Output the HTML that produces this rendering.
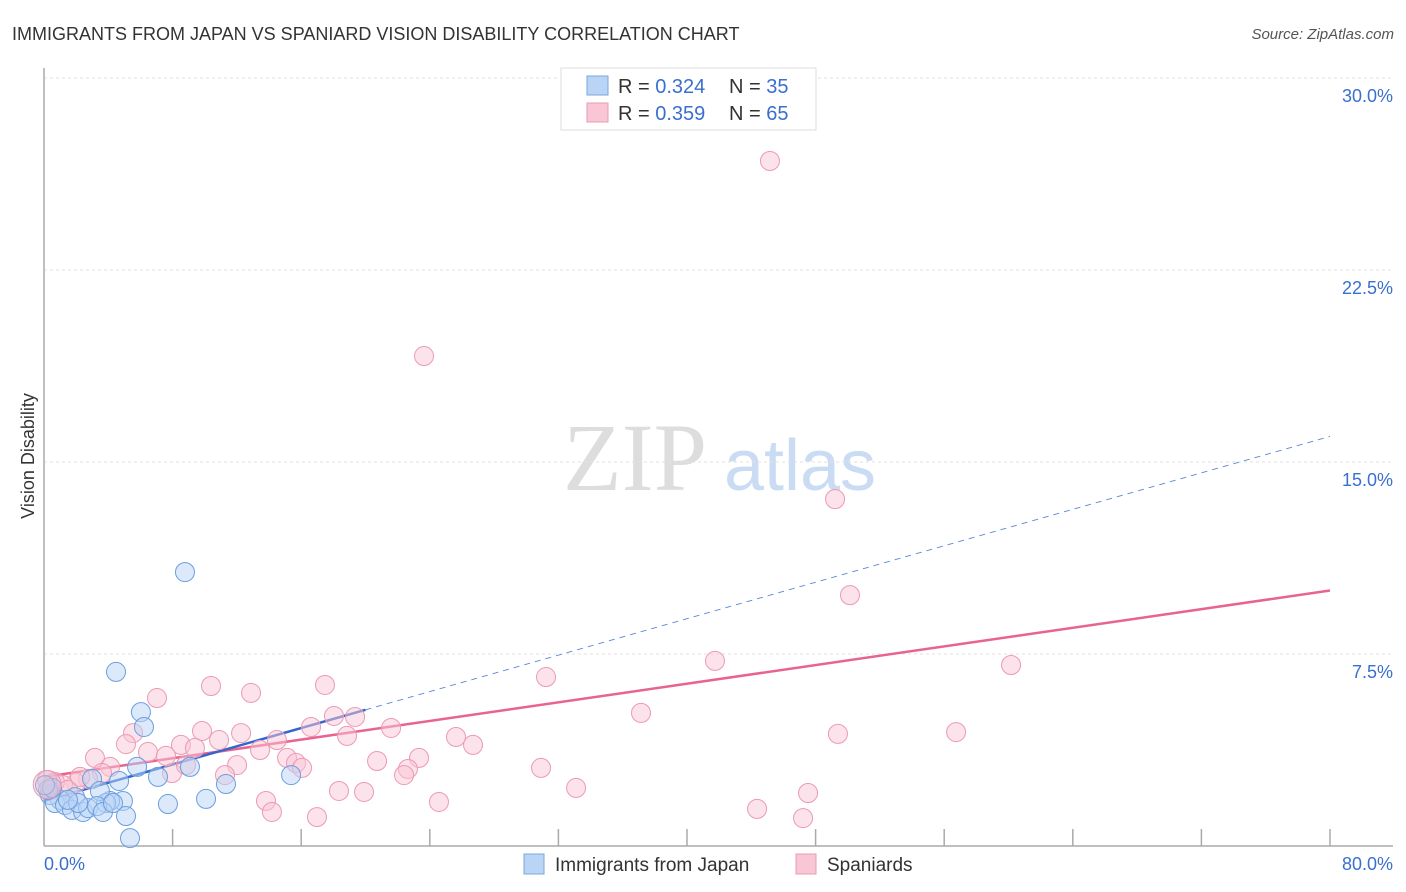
<!DOCTYPE html>
<html><head><meta charset="utf-8"><style>
body{margin:0;background:#fff;font-family:"Liberation Sans",sans-serif;}
svg{display:block}
</style></head><body>
<svg id="chart" width="1406" height="892">
<text x="12" y="40" font-size="18" fill="#333">IMMIGRANTS FROM JAPAN VS SPANIARD VISION DISABILITY CORRELATION CHART</text>
<text x="1394" y="39" font-size="15" fill="#555" font-style="italic" text-anchor="end">Source: ZipAtlas.com</text>
<text x="34" y="456" font-size="18" fill="#333" text-anchor="middle" transform="rotate(-90 34 456)">Vision Disability</text>
<g><text x="635" y="490" font-size="96" fill="#ddd" font-family="Liberation Serif" text-anchor="middle">ZIP</text><text x="800" y="490" font-size="72" fill="#c9dcf3" text-anchor="middle">atlas</text></g>
<g id="grid"></g><g id="axes"></g><g id="lines"></g><g id="pts"></g>
<g>
<rect x="561" y="68" width="255" height="62" fill="#fff" stroke="#ddd"/>
<rect x="587" y="76" width="21" height="19" fill="#b9d4f5" stroke="#7aa7e0"/>
<rect x="587" y="103" width="21" height="19" fill="#f9c6d5" stroke="#ec9ab3"/>
<text x="618" y="93" font-size="20" fill="#333">R = <tspan fill="#3a6fd0">0.324</tspan></text>
<text x="729" y="93" font-size="20" fill="#333">N = <tspan fill="#3a6fd0">35</tspan></text>
<text x="618" y="120" font-size="20" fill="#333">R = <tspan fill="#3a6fd0">0.359</tspan></text>
<text x="729" y="120" font-size="20" fill="#333">N = <tspan fill="#3a6fd0">65</tspan></text>
</g>
<g>
<rect x="524" y="854" width="20" height="20" fill="#b9d4f5" stroke="#7aa7e0"/>
<text x="555" y="871" font-size="19" fill="#333">Immigrants from Japan</text>
<rect x="796" y="854" width="20" height="20" fill="#f9c6d5" stroke="#ec9ab3"/>
<text x="827" y="871" font-size="19" fill="#333">Spaniards</text>
</g>
</svg>
<script>
const yTicks=[7.5,15,22.5,30];
const yTickLabels=["7.5%","15.0%","22.5%","30.0%"];
const xTicks=[8,16,24,32,40,48,56,64,72,80];
const xEndLabels=["0.0%","80.0%"];
const japanX=[4.48,8.77,6.03,6.22,5.79,9.08,7.09,4.67,2.99,7.71,10.08,11.32,15.37,4.91,4.11,3.86,3.48,1.93,1.00,0.37,0.68,1.31,1.74,2.43,2.74,3.30,3.67,5.10,5.35,2.12,0.25,1.49,4.29,0.50,0.06];
const japanY=[6.80,10.70,5.23,4.65,3.09,3.09,2.70,2.54,2.62,1.64,1.84,2.42,2.77,1.76,1.76,1.68,2.15,1.91,1.80,1.99,1.68,1.60,1.41,1.33,1.48,1.56,1.33,1.17,0.31,1.68,2.19,1.80,1.68,2.27,2.38];
const spainX=[45.16,23.64,49.21,50.14,41.74,60.16,31.23,37.14,49.39,56.74,17.48,10.39,12.88,7.03,18.04,19.35,21.59,16.61,12.26,9.83,5.54,5.10,8.52,9.39,6.47,7.59,10.89,14.49,18.85,25.63,26.69,15.12,13.44,3.17,20.72,23.33,15.68,16.05,22.64,22.40,30.92,12.01,11.26,7.96,4.11,8.83,3.61,2.74,1.99,1.18,0.68,0.37,1.49,13.81,14.18,16.98,18.35,19.91,24.57,33.10,44.36,47.22,47.53,0.19,2.24];
const spainY=[26.76,19.14,13.55,9.80,7.23,7.07,6.60,5.20,4.38,4.45,6.29,6.25,5.98,5.78,5.08,5.04,4.61,4.65,4.41,4.49,4.41,3.98,3.95,3.83,3.67,3.52,4.14,4.14,4.30,4.26,3.95,3.44,3.75,3.44,3.32,3.44,3.24,3.05,3.01,2.77,3.05,3.16,2.77,2.85,3.09,3.16,2.85,2.62,2.46,2.38,2.50,2.19,2.19,1.76,1.33,1.13,2.15,2.11,1.72,2.27,1.45,1.09,2.07,2.58,2.70];
const japanTrend=[1.76,0.178];
const spainTrend=[2.70,0.091];
const japanSolidEnd=20;
const X=v=>44+v/80*1286, Y=v=>846-v/7.5*192;
const NS="http://www.w3.org/2000/svg";
function mk(p,t,a){const e=document.createElementNS(NS,t);for(const k in a)e.setAttribute(k,a[k]);p.appendChild(e);return e;}
const grid=document.getElementById('grid'),axes=document.getElementById('axes'),lines=document.getElementById('lines'),pts=document.getElementById('pts');
yTicks.forEach((t,i)=>{
 const l=mk(grid,'line',{x1:44,x2:1393,y1:Y(t),y2:Y(t),stroke:'#e2e2e2','stroke-dasharray':'3,3'});
 
 
 const tx=mk(axes,'text',{x:1393,y:Y(t)+24,'font-size':18,fill:'#3a6fd0','text-anchor':'end'});
 tx.textContent=yTickLabels[i];
 
 
});
let a=mk(axes,'line',{x1:44,x2:44,y1:68,y2:846,stroke:'#aaa','stroke-width':1.5});


a=mk(axes,'line',{x1:44,x2:1393,y1:846,y2:846,stroke:'#aaa','stroke-width':1.5});


xTicks.forEach(t=>{
 const l=mk(axes,'line',{x1:X(t),x2:X(t),y1:829,y2:846,stroke:'#aaa','stroke-width':1.5});
 
 
});
[[0,'start',44],[80,'end',1393]].forEach((d,i)=>{
 const tx=mk(axes,'text',{x:d[2],y:870,'font-size':18,fill:'#3a6fd0','text-anchor':d[1]});
 tx.textContent=xEndLabels[i];
 
 
});
function dots(xs,ys,fill,stroke,name){
 xs.forEach((x,i)=>{
  const c=mk(pts,'circle',{cx:X(x),cy:Y(ys[i]),r:9.5,fill:fill,'fill-opacity':0.5,stroke:stroke,'stroke-width':1});
  
  
 });
}
dots(spainX,spainY,'#f9c6d5','#ec9ab3','spaniard-point');
dots(japanX,japanY,'#b9d4f5','#6a9ee0','japan-point');
let c=mk(pts,'circle',{cx:X(0.2),cy:Y(2.4),r:14,fill:'#e8b8cc','fill-opacity':0.4,stroke:'#ec9ab3'});


const tl=(tr,x)=>Y(tr[0]+tr[1]*x);
let l=mk(lines,'line',{x1:X(0),y1:tl(spainTrend,0),x2:X(80),y2:tl(spainTrend,80),stroke:'#e8648f','stroke-width':2.5});


l=mk(lines,'line',{x1:X(0),y1:tl(japanTrend,0),x2:X(japanSolidEnd),y2:tl(japanTrend,japanSolidEnd),stroke:'#3366cc','stroke-width':2.5});


l=mk(lines,'line',{x1:X(japanSolidEnd),y1:tl(japanTrend,japanSolidEnd),x2:X(80),y2:tl(japanTrend,80),stroke:'#5b8ad8','stroke-width':1,'stroke-dasharray':'6,5'});


</script>
</body></html>
